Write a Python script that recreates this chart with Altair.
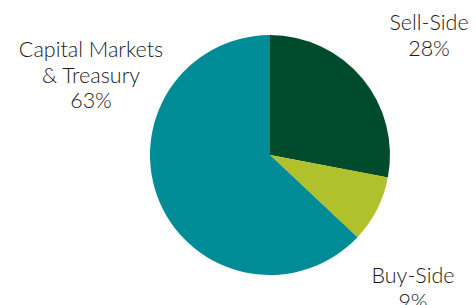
import altair as alt
import pandas as pd

categories = ["Sell-Side", "Buy-Side", "Capital Markets & Treasury"]
shares = [28, 9, 63]
label_lines = [["Sell-Side", "28%"], ["Buy-Side", "9%"], ["Capital Markets", "& Treasury", "63%"]]
colors = ["#004B2C", "#B1C12B", "#008C96"]

df = pd.DataFrame({"category": categories, "share": shares, "order": list(range(len(categories)))})

pie = alt.Chart(df).mark_arc(outerRadius=120, stroke=None).encode(
    theta=alt.Theta("share:Q", stack=True),
    order=alt.Order("order:Q"),
    color=alt.Color("category:N", scale=alt.Scale(domain=categories, range=colors), legend=None),
    x=alt.value(262),
    y=alt.value(147),
)

label_pos = {"Sell-Side": (421, 22), "Buy-Side": (405, 275), "Capital Markets & Treasury": (83, 49)}

layers = [pie]
for cat, lines in zip(categories, label_lines):
    px, py = label_pos[cat]
    ldf = pd.DataFrame({"label": [lines]})
    layers.append(
        alt.Chart(ldf).mark_text(
            font="Lato", fontSize=21.5, fontWeight=300, color="#1a1a1a", align="center",
            baseline="alphabetic", lineHeight=25.5
        ).encode(text="label", x=alt.value(px), y=alt.value(py))
    )

chart = alt.layer(*layers).properties(
    width=460, height=300, padding=0, background="white",
    autosize=alt.AutoSizeParams(type="none")
).configure_view(stroke=None)

chart.save("out.html", embed_options={"renderer": "svg", "actions": False})
